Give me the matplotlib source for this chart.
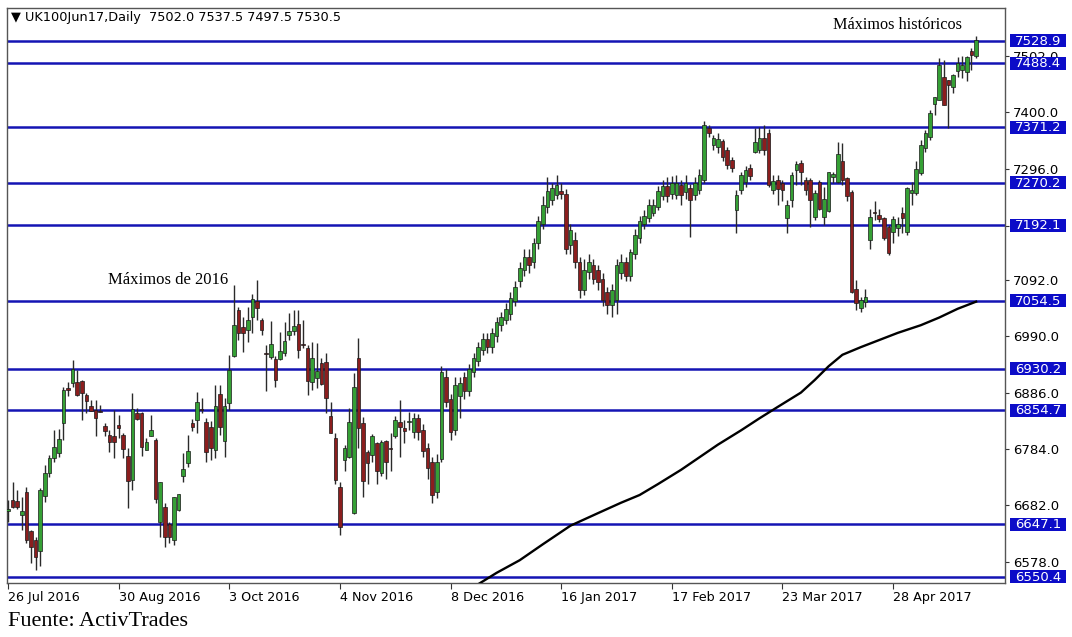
import matplotlib
matplotlib.use("Agg")
import matplotlib.pyplot as plt
import matplotlib.transforms as mtransforms
from matplotlib.patches import Rectangle

# ---------------- data ----------------
opens = [6670, 6691, 6689, 6664, 6706, 6635, 6618, 6597, 6698, 6740,
         6767, 6776, 6831, 6896, 6905, 6907, 6909, 6883, 6863, 6855,
         6853, 6826, 6809, 6808, 6828, 6810, 6771, 6727, 6850, 6849,
         6782, 6808, 6801, 6651, 6678, 6648, 6618, 6673, 6734, 6759,
         6832, 6837, 6857, 6833, 6825, 6782, 6884, 6799, 6868, 6953,
         7038, 7007, 7001, 7025, 7055, 7020, 6960, 6952, 6948, 6948,
         6959, 6992, 7000, 7012, 6976, 6968, 6907, 6913, 6941, 6943,
         6844, 6805, 6715, 6764, 6770, 6667, 6950, 6832, 6779, 6773,
         6795, 6740, 6799, 6786, 6808, 6834, 6822, 6834, 6815, 6840,
         6818, 6785, 6760, 6705, 6765, 6915, 6875, 6818, 6880, 6915,
         6890, 6925, 6945, 6965, 6985, 6970, 6990, 7010, 7020, 7030,
         7055, 7090, 7110, 7135, 7125, 7160, 7195, 7225, 7239, 7248,
         7255, 7250, 7156, 7165, 7125, 7075, 7108, 7120, 7110, 7095,
         7070, 7047, 7056, 7105, 7125, 7100, 7140, 7170, 7195, 7205,
         7215, 7225, 7245, 7265, 7250, 7248, 7266, 7253, 7260, 7248,
         7257, 7275, 7370, 7339, 7335, 7346, 7330, 7312, 7220, 7257,
         7271, 7297, 7326, 7330, 7352, 7360, 7257, 7275, 7269, 7205,
         7239, 7293, 7306, 7276, 7276, 7207, 7272, 7208, 7219, 7280,
         7272, 7309, 7278, 7254, 7076, 7041, 7053, 7166, 7216, 7211,
         7206, 7190, 7181, 7187, 7215, 7181, 7251, 7252, 7287, 7333,
         7354, 7414, 7421, 7463, 7458, 7445, 7474, 7476, 7472, 7511,
         7502.0]
highs = [6691, 6724, 6710, 6697, 6715, 6636, 6624, 6712, 6755, 6773,
         6818, 6820, 6898, 6907, 6947, 6928, 6910, 6887, 6874, 6874,
         6864, 6831, 6818, 6855, 6846, 6813, 6785, 6886, 6859, 6852,
         6804, 6846, 6804, 6724, 6685, 6651, 6697, 6702, 6777, 6810,
         6838, 6888, 6878, 6840, 6836, 6900, 6901, 6878, 6956, 7083,
         7044, 7025, 7044, 7067, 7093, 7023, 6974, 7017, 6953, 6998,
         7016, 7032, 7038, 7038, 7020, 6974, 6980, 6977, 6950, 6959,
         6870, 6813, 6724, 6791, 6858, 6923, 6986, 6843, 6782, 6812,
         6797, 6801, 6801, 6813, 6844, 6874, 6837, 6852, 6850, 6848,
         6830, 6795, 6770, 6775, 6935, 6930, 6885, 6915, 6915, 6925,
         6940, 6960, 6980, 6995, 6995, 7005, 7025, 7035, 7050, 7070,
         7090, 7125, 7150, 7150, 7170, 7210, 7245, 7280, 7270, 7284,
         7270, 7258, 7195, 7180, 7135, 7130, 7140, 7130, 7120, 7105,
         7080, 7085, 7130, 7140, 7135, 7150, 7185, 7210, 7220, 7240,
         7240, 7265, 7275, 7280, 7282, 7285, 7275, 7285, 7268, 7280,
         7295, 7383, 7376, 7357, 7360, 7350, 7335, 7318, 7257, 7290,
         7300, 7305, 7370, 7372, 7375, 7368, 7285, 7285, 7275, 7239,
         7290, 7309, 7312, 7281, 7278, 7257, 7275, 7263, 7290, 7290,
         7345, 7342, 7281, 7257, 7093, 7062, 7077, 7223, 7236, 7223,
         7208, 7193, 7209, 7208, 7226, 7263, 7272, 7309, 7348, 7367,
         7403, 7427, 7498, 7494, 7458, 7469, 7500, 7502, 7502, 7516,
         7537.5]
lows = [6651, 6676, 6674, 6636, 6612, 6575, 6563, 6570, 6688, 6732,
        6761, 6770, 6800, 6880, 6898, 6880, 6837, 6849, 6854, 6807,
        6852, 6807, 6779, 6767, 6804, 6767, 6676, 6709, 6837, 6771,
        6782, 6807, 6685, 6624, 6606, 6612, 6609, 6670, 6724, 6752,
        6816, 6813, 6849, 6760, 6764, 6768, 6810, 6770, 6855, 6952,
        6983, 6962, 6980, 6995, 7020, 6992, 6889, 6949, 6898, 6946,
        6953, 6983, 6992, 6950, 6969, 6883, 6892, 6895, 6901, 6849,
        6813, 6721, 6627, 6744, 6767, 6665, 6785, 6697, 6721, 6761,
        6721, 6734, 6729, 6743, 6804, 6770, 6795, 6819, 6805, 6800,
        6770, 6730, 6685, 6695, 6760, 6860, 6800, 6810, 6840, 6875,
        6880, 6915, 6935, 6955, 6960, 6960, 6980, 7000, 7012, 7020,
        7045, 7080, 7100, 7105, 7115, 7150, 7185, 7215, 7230, 7240,
        7240, 7140, 7140, 7115, 7060, 7065, 7095, 7085, 7075, 7045,
        7030, 7025, 7030, 7095, 7090, 7090, 7130, 7160, 7185, 7198,
        7210, 7220, 7238, 7235, 7240, 7240, 7230, 7240, 7171, 7238,
        7250, 7270, 7354, 7330, 7325, 7310, 7295, 7290, 7178, 7250,
        7262, 7275, 7324, 7324, 7320, 7262, 7250, 7230, 7236, 7178,
        7226, 7266, 7266, 7248, 7190, 7202, 7220, 7193, 7217, 7269,
        7269, 7266, 7236, 7068, 7038, 7035, 7044, 7150, 7202, 7199,
        7166, 7138, 7160, 7172, 7178, 7175, 7230, 7248, 7284, 7327,
        7348, 7394, 7421, 7412, 7370, 7434, 7463, 7461, 7456, 7476,
        7497.5]
closes = [6675, 6679, 6679, 6670, 6618, 6606, 6587, 6710, 6740, 6767,
          6787, 6802, 6892, 6892, 6930, 6882, 6886, 6872, 6854, 6840,
          6851, 6816, 6797, 6797, 6822, 6784, 6726, 6857, 6838, 6788,
          6796, 6819, 6693, 6724, 6624, 6624, 6697, 6702, 6747, 6780,
          6825, 6869, 6856, 6779, 6786, 6863, 6825, 6862, 6928, 7010,
          6996, 6996, 7020, 7057, 7041, 7001, 6958, 6975, 6910, 6963,
          6982, 7000, 7009, 6965, 6973, 6909, 6951, 6927, 6903, 6877,
          6814, 6727, 6642, 6785, 6834, 6897, 6822, 6726, 6758, 6808,
          6743, 6797, 6761, 6784, 6837, 6825, 6816, 6835, 6840, 6815,
          6780, 6750, 6700, 6760, 6925, 6870, 6815, 6900, 6905, 6890,
          6930, 6950, 6970, 6985, 6970, 6995, 7015, 7025, 7040, 7060,
          7080, 7115, 7135, 7120, 7160, 7200, 7230, 7255, 7261, 7266,
          7250, 7150, 7183, 7125, 7075, 7110, 7125, 7095, 7088, 7056,
          7047, 7075, 7120, 7125, 7100, 7143, 7175, 7200, 7210, 7230,
          7230, 7255, 7265, 7245, 7270, 7270, 7248, 7270, 7239, 7270,
          7284, 7376, 7361, 7352, 7350, 7317, 7303, 7297, 7248, 7284,
          7293, 7282, 7344, 7352, 7330, 7266, 7273, 7258, 7257, 7229,
          7284, 7304, 7290, 7257, 7239, 7251, 7223, 7240, 7290, 7286,
          7323, 7275, 7245, 7071, 7050, 7056, 7061, 7207, 7215, 7203,
          7169, 7142, 7203, 7195, 7205, 7261, 7257, 7295, 7339, 7361,
          7397, 7427, 7485, 7412, 7449, 7467, 7489, 7485, 7500, 7503,
          7530.5]

# 200-day moving average, read at sampled bars
ma_bars = [101, 106, 111, 116, 122, 128, 133, 137, 141, 146, 150, 154, 159,
           163, 167, 172, 175, 178, 181, 185, 189, 193, 198, 202, 206, 210]
ma_vals = [6532, 6558, 6581, 6610, 6644, 6667, 6686, 6700, 6720, 6746, 6769,
           6792, 6818, 6840, 6861, 6887, 6910, 6935, 6956, 6970, 6983, 6996,
           7010, 7024, 7040, 7053]

levels = [7528.9, 7488.4, 7371.2, 7270.2, 7192.1, 7054.5, 6930.2, 6854.7,
          6647.1, 6550.4]
price_ticks = [7502.0, 7400.0, 7296.0, 7192.0, 7092.0, 6990.0, 6886.0,
               6784.0, 6682.0, 6578.0]
hidden_tick = 7192.0   # fully covered by the 7192.1 level box
date_tick_bars = [0, 24, 48, 72, 96, 120, 144, 168, 192]
date_labels = ["26 Jul 2016", "30 Aug 2016", "3 Oct 2016", "4 Nov 2016",
               "8 Dec 2016", "16 Jan 2017", "17 Feb 2017", "23 Mar 2017",
               "28 Apr 2017"]
title_text = "\u25BC UK100Jun17,Daily  7502.0 7537.5 7497.5 7530.5"

# ---------------- figure ----------------
W, H = 1072, 637
fig = plt.figure(figsize=(W / 100, H / 100), dpi=100)
fig.patch.set_facecolor("white")
AX_L, AX_B, AX_W, AX_H = 7, 54, 998, 575
ax = fig.add_axes([AX_L / W, AX_B / H, AX_W / W, AX_H / H])
ax.set_facecolor("white")

BLUE = "#1414b4"
GREEN = "#35a035"
RED = "#8b1e1e"

for lv in levels:
    ax.axhline(lv, color=BLUE, lw=1.8, zorder=2)

n = len(opens)
xs = list(range(n))
ax.vlines(xs, lows, highs, color="#2a2a2a", lw=1.0, zorder=3)
bottoms = [min(o, c) for o, c in zip(opens, closes)]
heights = [max(abs(c - o), 1.2) for o, c in zip(opens, closes)]
cols = [GREEN if c >= o else RED for o, c in zip(opens, closes)]
ax.bar(xs, heights, bottom=bottoms, width=0.78, color=cols,
       edgecolor="#1a1a1a", linewidth=0.5, zorder=4)

ax.plot(ma_bars, ma_vals, color="black", lw=1.7, zorder=5)

ax.set_xlim(-0.217, 216.27)
ax.set_ylim(6539.4, 7589.1)
ppx = (7589.1 - 6539.4) / AX_H  # price units per pixel

# frame
for side in ["top", "left", "bottom", "right"]:
    ax.spines[side].set_color("#555555")
    ax.spines[side].set_linewidth(1.0)

# x ticks
ax.set_xticks(date_tick_bars)
ax.set_xticklabels(date_labels, fontsize=9.2, family="DejaVu Sans")
for lab in ax.get_xticklabels():
    lab.set_horizontalalignment("left")
ax.tick_params(axis="x", length=4, width=0.8, color="#333333", pad=2)

# y ticks on the right
ax.yaxis.tick_right()
ax.set_yticks(price_ticks)
ax.set_yticklabels(["" if v == hidden_tick else f"{v:.1f}" for v in price_ticks],
                   fontsize=9.5, family="DejaVu Sans")
ax.tick_params(axis="y", length=3, width=0.8, color="#333333", pad=3)

# level labels on the right (blue boxes)
trans = mtransforms.blended_transform_factory(ax.transAxes, ax.transData)
bx0 = (1010 - AX_L) / AX_W
bx1 = (1066 - AX_L) / AX_W
bh = 13 * ppx
for lv in levels:
    ax.add_patch(Rectangle((bx0, lv - bh / 2), bx1 - bx0, bh, transform=trans,
                           facecolor="#0c0cc8", edgecolor="none",
                           clip_on=False, zorder=9))
    ax.text((bx0 + bx1) / 2, lv - 0.5 * ppx, f"{lv:.1f}", transform=trans,
            ha="center", va="center", fontsize=9.5, family="DejaVu Sans",
            color="white", zorder=10, clip_on=False)

# title and annotations
ax.text(4 / AX_W, 1 - 10 / AX_H, title_text, transform=ax.transAxes,
        ha="left", va="center", fontsize=9.3, family="DejaVu Sans",
        color="black", zorder=10)
ax.text(21.7, 7092.5, "Máximos de 2016", ha="left", va="center",
        fontsize=12, family="Liberation Serif", color="black", zorder=10)
ax.text(179.0, 7558.0, "Máximos históricos", ha="left", va="center",
        fontsize=11.7, family="Liberation Serif", color="black", zorder=10)

fig.text(8 / W, 1 - 622 / H, "Fuente: ActivTrades", ha="left", va="center",
         fontsize=16, family="Liberation Serif", color="black")

fig.savefig("out.png", dpi=100, facecolor="white")
